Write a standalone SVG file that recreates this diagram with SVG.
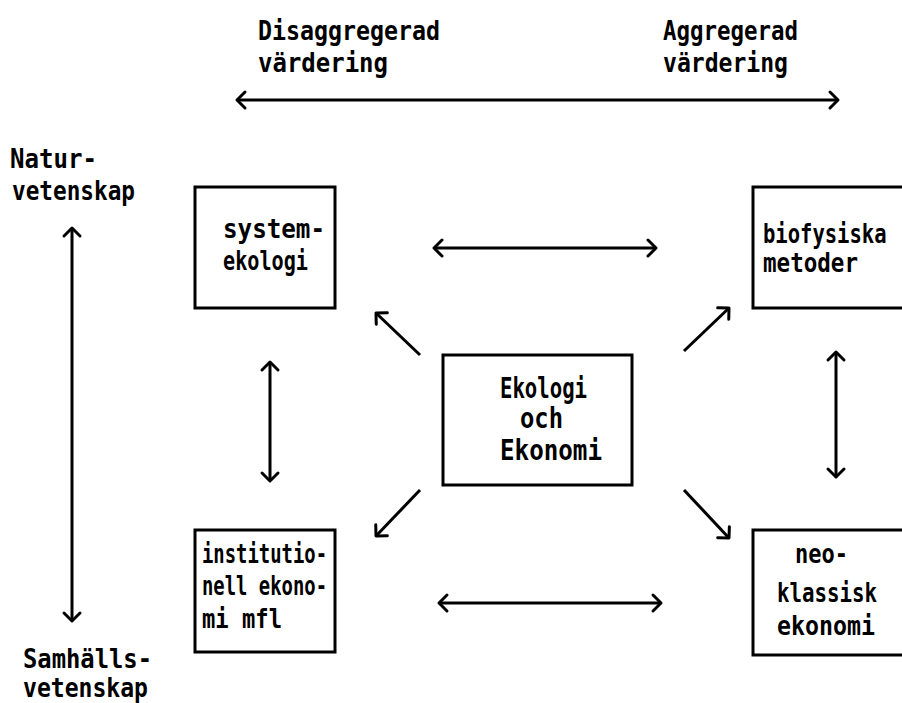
<svg xmlns="http://www.w3.org/2000/svg" width="902" height="703" viewBox="0 0 902 703">
<style>
text{font-family:"DejaVu Sans Mono","Liberation Mono",monospace;font-weight:bold;font-size:26px;fill:#000}
.big{font-size:28px}
.box{fill:#fff;stroke:#000;stroke-width:3}
.c{stroke:#000;stroke-width:3;fill:none}
</style>
<defs>
<marker id="ah" markerUnits="userSpaceOnUse" markerWidth="24" markerHeight="24" viewBox="-12 -12 24 24" refX="0" refY="0" orient="auto-start-reverse" overflow="visible">
<path d="M-8,-8 L0,0 L-8,8" fill="none" stroke="#000" stroke-width="3" stroke-linecap="round" stroke-linejoin="round"/>
</marker>
</defs>
<rect width="902" height="703" fill="#fff"/>
<g id="labels">
<text x="258" y="40" textLength="182" lengthAdjust="spacingAndGlyphs">Disaggregerad</text>
<text x="258" y="72" textLength="130" lengthAdjust="spacingAndGlyphs">värdering</text>
<text x="663" y="40" textLength="135" lengthAdjust="spacingAndGlyphs">Aggregerad</text>
<text x="663" y="72" textLength="125" lengthAdjust="spacingAndGlyphs">värdering</text>
<text x="10" y="168" textLength="87" lengthAdjust="spacingAndGlyphs">Natur-</text>
<text x="12" y="200" textLength="123" lengthAdjust="spacingAndGlyphs">vetenskap</text>
<text x="23" y="668" textLength="129" lengthAdjust="spacingAndGlyphs">Samhälls-</text>
<text x="23" y="697" textLength="125" lengthAdjust="spacingAndGlyphs">vetenskap</text>
</g>
<g id="connectors">
<line class="c" x1="237" y1="100" x2="838" y2="100" marker-start="url(#ah)" marker-end="url(#ah)"/>
<line class="c" x1="72" y1="228" x2="72" y2="621" marker-start="url(#ah)" marker-end="url(#ah)"/>
<line class="c" x1="434" y1="248" x2="656" y2="248" marker-start="url(#ah)" marker-end="url(#ah)"/>
<line class="c" x1="439" y1="603" x2="661" y2="603" marker-start="url(#ah)" marker-end="url(#ah)"/>
<line class="c" x1="270" y1="362" x2="270" y2="481" marker-start="url(#ah)" marker-end="url(#ah)"/>
<line class="c" x1="836" y1="352" x2="836" y2="477" marker-start="url(#ah)" marker-end="url(#ah)"/>
<line class="c" x1="420" y1="355" x2="376" y2="313" marker-end="url(#ah)"/>
<line class="c" x1="684" y1="351" x2="729" y2="308" marker-end="url(#ah)"/>
<line class="c" x1="420" y1="490" x2="376" y2="536" marker-end="url(#ah)"/>
<line class="c" x1="684" y1="490" x2="729" y2="538" marker-end="url(#ah)"/>
</g>
<g id="systemekologi">
<rect class="box" x="195" y="187" width="140" height="121"/>
<text x="223" y="238" textLength="102" lengthAdjust="spacingAndGlyphs">system-</text>
<text x="223" y="270" textLength="85" lengthAdjust="spacingAndGlyphs">ekologi</text>
</g>
<g id="biofysiska">
<rect class="box" x="753" y="187" width="160" height="121"/>
<text transform="translate(763,243) scale(0.79,1)" x="0" y="0">biofysiska</text>
<text x="763" y="272" textLength="95" lengthAdjust="spacingAndGlyphs">metoder</text>
</g>
<g id="center">
<rect class="box" x="443" y="355" width="189" height="130"/>
<text class="big" x="500" y="398" textLength="87" lengthAdjust="spacingAndGlyphs">Ekologi</text>
<text class="big" x="520" y="428" textLength="43" lengthAdjust="spacingAndGlyphs">och</text>
<text class="big" x="500" y="460" textLength="102" lengthAdjust="spacingAndGlyphs">Ekonomi</text>
</g>
<g id="institutionell">
<rect class="box" x="195" y="530" width="140" height="122"/>
<text x="202" y="563" textLength="125" lengthAdjust="spacingAndGlyphs">institutio-</text>
<text x="202" y="595" textLength="125" lengthAdjust="spacingAndGlyphs">nell ekono-</text>
<text x="202" y="628" textLength="80" lengthAdjust="spacingAndGlyphs">mi mfl</text>
</g>
<g id="neoklassisk">
<rect class="box" x="753" y="530" width="160" height="125"/>
<text x="795" y="563" textLength="53" lengthAdjust="spacingAndGlyphs">neo-</text>
<text x="777" y="602" textLength="100" lengthAdjust="spacingAndGlyphs">klassisk</text>
<text x="777" y="635" textLength="98" lengthAdjust="spacingAndGlyphs">ekonomi</text>
</g>
</svg>
